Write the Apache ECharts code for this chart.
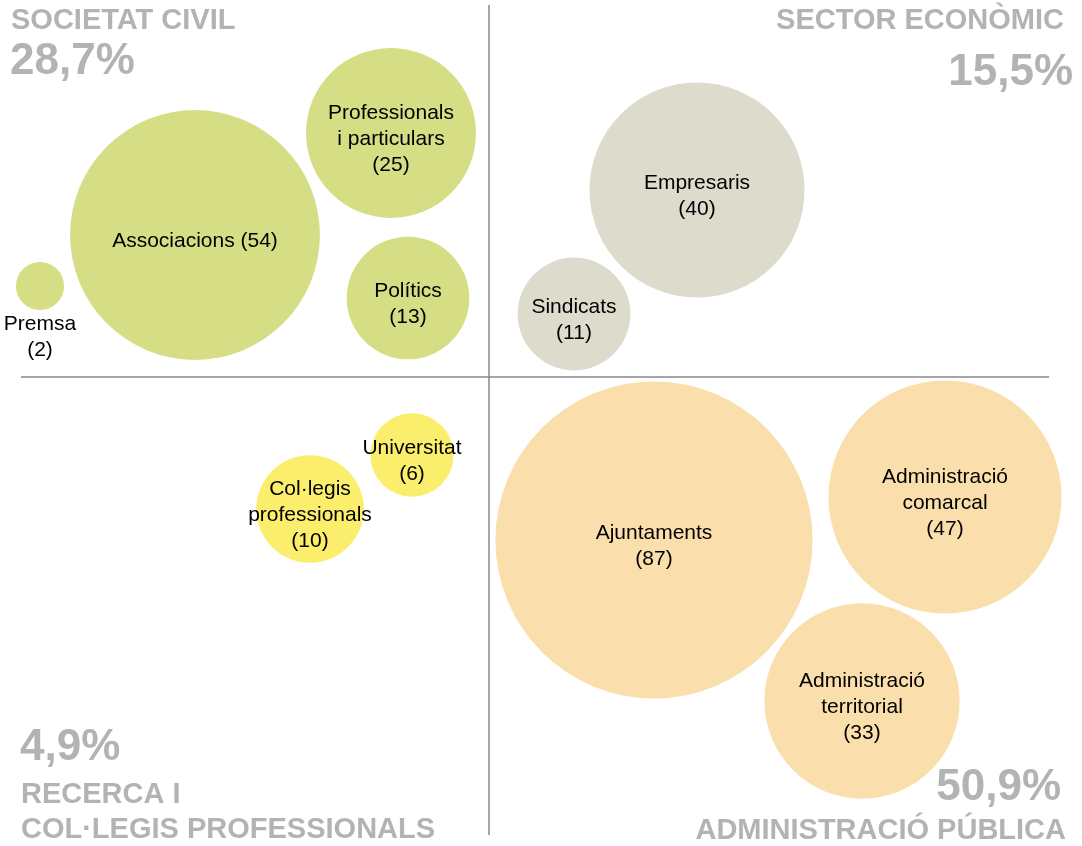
<!DOCTYPE html>
<html>
<head>
    <meta charset="utf-8">
    <title>bubbles</title>
    <script src="https://cdn.jsdelivr.net/npm/echarts@6/dist/echarts.min.js"></script>
    <style>
        html, body { margin: 0; padding: 0; background: #fff; }
    </style>
</head>
<body>
<div id="main" style="width: 1082px;height:846px;"></div>

<script type="text/javascript">
    // dades
    var names = ['Associacions', 'Professionals\ni particulars', 'Polítics', 'Premsa',
        'Empresaris', 'Sindicats',
        'Ajuntaments', 'Administració\ncomarcal', 'Administració\nterritorial',
        'Universitat', 'Col·legis\nprofessionals'];
    var values = [54, 25, 13, 2, 40, 11, 87, 47, 33, 6, 10];
    var groups = ['civil', 'civil', 'civil', 'civil', 'eco', 'eco', 'admin', 'admin', 'admin', 'recerca', 'recerca'];
    // posicio de cada bombolla (x, y)
    var xs = [195, 391, 408, 40, 697, 574, 654, 945, 862, 412, 310];
    var ys = [235, 133, 298, 286, 190, 314, 540, 497, 701, 455, 509];

    var quadrantTitles = ['SOCIETAT CIVIL', 'SECTOR ECONÒMIC', 'RECERCA I\nCOL·LEGIS PROFESSIONALS', 'ADMINISTRACIÓ PÚBLICA'];
    var quadrantPct = ['28,7%', '15,5%', '4,9%', '50,9%'];

    var colors = {
        civil: '#d5de85',
        eco: '#dcdbcc',
        admin: '#fadeab',
        recerca: '#fbee6c'
    };

    var myChart = echarts.init(document.getElementById('main'));

    var data = [];
    for (var i = 0; i < names.length; i++) {
        var item = {
            name: names[i],
            value: [xs[i], ys[i], values[i]],
            itemStyle: { color: colors[groups[i]], opacity: 1 }
        };
        if (names[i] === 'Premsa') {
            item.label = { position: 'bottom', distance: 1, offset: [0, 0] };
        }
        data.push(item);
    }

    var gray = '#b3b3b3';
    var font = 'Liberation Sans';

    function title(txt, x, y, size, align) {
        return {
            type: 'text',
            x: x,
            y: y,
            style: {
                text: txt,
                fill: gray,
                fontFamily: font,
                fontWeight: 'bold',
                fontSize: size,
                textAlign: align,
                textVerticalAlign: 'middle',
                lineHeight: 35
            }
        };
    }

    option = {
        animation: false,
        grid: { left: 0, right: 0, top: 0, bottom: 0 },
        xAxis: { type: 'value', min: 0, max: 1082, show: false },
        yAxis: { type: 'value', min: 0, max: 846, inverse: true, show: false },
        graphic: [
            title(quadrantTitles[0], 11, 21, 29, 'left'),
            title(quadrantPct[0], 10, 62, 44, 'left'),
            title(quadrantTitles[1], 1064, 21, 29, 'right'),
            title(quadrantPct[1], 1073, 73, 44, 'right'),
            title(quadrantPct[2], 20, 748, 44, 'left'),
            title(quadrantTitles[2], 21, 812, 29, 'left'),
            title(quadrantPct[3], 1061, 788, 44, 'right'),
            title(quadrantTitles[3], 1066, 831, 29, 'right')
        ],
        series: [{
            type: 'scatter',
            data: data,
            symbolSize: function (val) {
                return 34 * Math.sqrt(val[2]);
            },
            label: {
                show: true,
                position: 'inside',
                offset: [0, 6],
                color: '#000',
                fontFamily: font,
                fontSize: 21,
                lineHeight: 26,
                formatter: function (p) {
                    var sep = p.name === 'Associacions' ? ' ' : '\n';
                    return p.name + sep + '(' + p.value[2] + ')';
                }
            },
            emphasis: { disabled: true },
            markLine: {
                silent: true,
                symbol: 'none',
                label: { show: false },
                lineStyle: { color: '#888', width: 1.5, type: 'solid' },
                data: [
                    [{ coord: [489, 5] }, { coord: [489, 835] }],
                    [{ coord: [21, 377] }, { coord: [1049, 377] }]
                ]
            }
        }]
    };

    myChart.setOption(option);
</script>
</body>
</html>
